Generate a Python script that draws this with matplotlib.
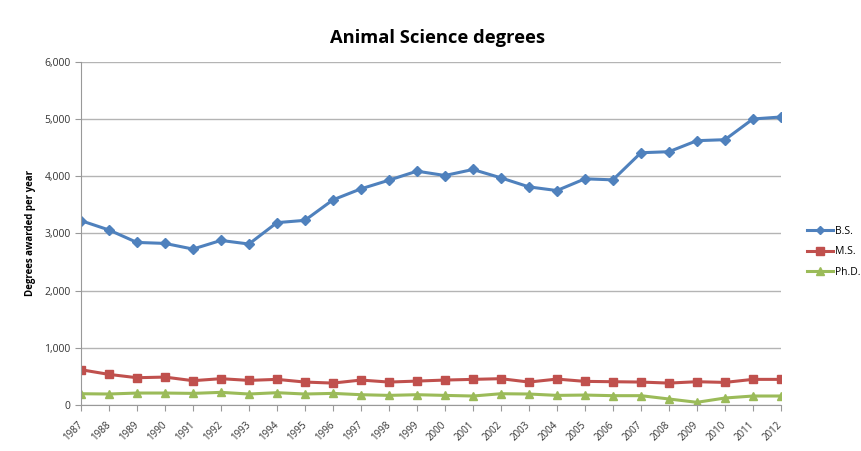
import matplotlib
matplotlib.use("Agg")
import matplotlib.pyplot as plt
from matplotlib.ticker import FuncFormatter

plt.rcParams['font.family'] = ['Open Sans', 'DejaVu Sans']

# data
years = list(range(1987, 2013))
bs = [3223, 3060, 2842, 2825, 2726, 2877, 2814, 3188, 3228, 3586, 3779, 3930, 4088,
      4012, 4117, 3971, 3813, 3749, 3954, 3936, 4410, 4428, 4621, 4638, 5000, 5035]
ms = [617, 535, 477, 488, 425, 460, 430, 448, 401, 383, 436, 401, 418,
      436, 448, 460, 401, 453, 413, 407, 401, 383, 407, 395, 448, 448]
phd = [197, 192, 209, 209, 203, 221, 192, 215, 192, 203, 180, 168, 180,
       168, 157, 197, 192, 168, 174, 163, 163, 105, 47, 122, 157, 157]

fig = plt.figure(figsize=(8.61, 4.51), dpi=100)
ax = fig.add_axes([0.094, 0.102, 0.813, 0.761])

ax.plot(years, bs, color='#4F81BD', marker='D', markersize=5, linewidth=2.2, label='B.S.')
ax.plot(years, ms, color='#C0504D', marker='s', markersize=6, linewidth=2.2, label='M.S.')
ax.plot(years, phd, color='#9BBB59', marker='^', markersize=6, linewidth=2.2, label='Ph.D.')

ax.set_xlim(1987, 2012)
ax.set_ylim(0, 6000)
ax.set_yticks(range(0, 6001, 1000))
ax.yaxis.set_major_formatter(FuncFormatter(lambda v, p: f'{int(v):,}'))
ax.set_xticks(years)
ax.set_xticklabels([str(y) for y in years], rotation=45, ha='right', va='center',
                   rotation_mode='anchor')

ax.grid(axis='y', color='#b4b4b4', linewidth=1)
ax.set_axisbelow(True)
for s in ['top', 'right']:
    ax.spines[s].set_visible(False)
ax.spines['left'].set_color('#999999')
ax.spines['bottom'].set_color('#999999')
ax.tick_params(axis='both', labelsize=7.5, colors='#999999', labelcolor='#333333', length=4)
ax.tick_params(axis='x', labelsize=7, pad=9.5)

ax.set_ylabel('Degrees awarded per year', fontsize=7, fontweight='bold')
ax.yaxis.set_label_coords(-0.064, 0.5)
fig.text(0.508, 0.916, 'Animal Science degrees', fontsize=13.2, fontweight='bold',
         ha='center', va='center')

ax.legend(loc='center left', bbox_to_anchor=(1.037, 0.446), frameon=False, fontsize=7.5,
          handlelength=2.5, handletextpad=0.2, labelspacing=0.9, borderpad=0,
          borderaxespad=0, markerscale=0.9)

fig.savefig('out.png', dpi=100)
